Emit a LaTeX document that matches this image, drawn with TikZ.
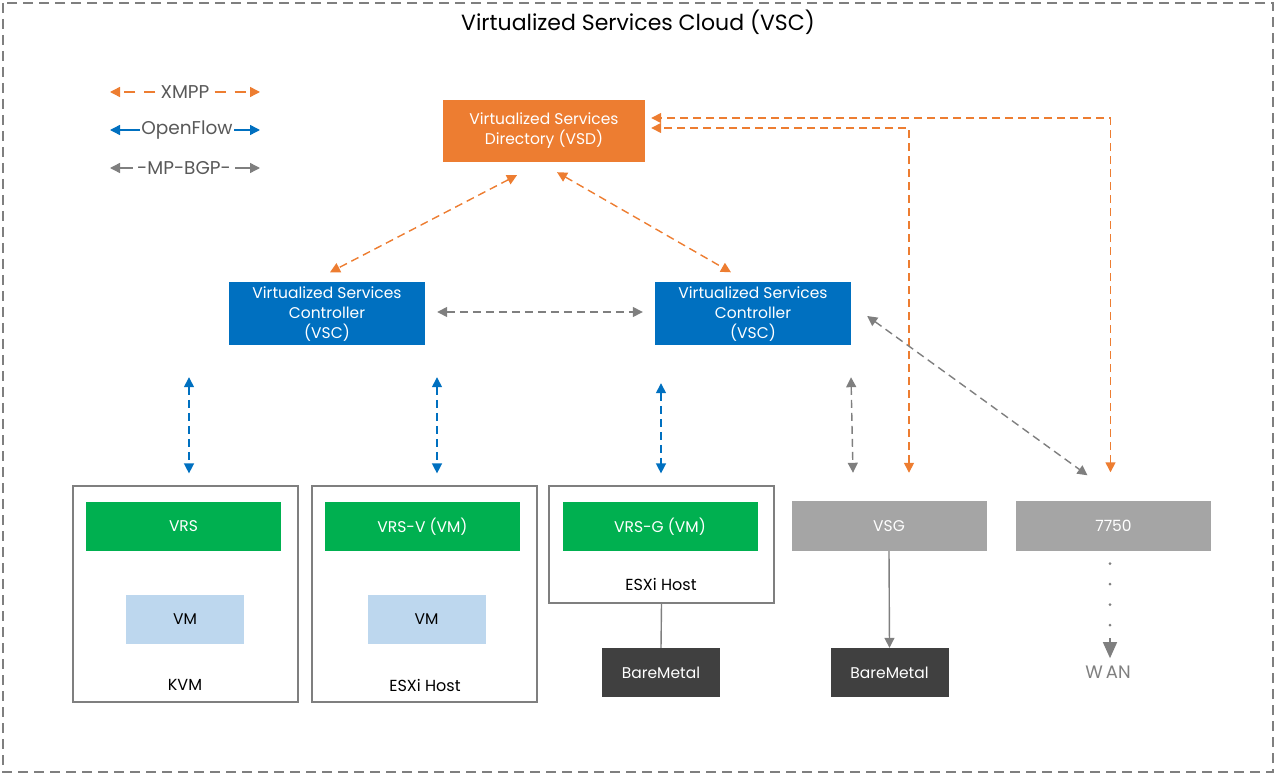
\documentclass[tikz,border=0pt]{standalone}
\usepackage{fontspec}
\setmainfont{Poppins}
\usetikzlibrary{arrows.meta,positioning}

\definecolor{vorange}{HTML}{ED7D31}
\definecolor{vblue}{HTML}{0070C0}
\definecolor{vgreen}{HTML}{00B050}
\definecolor{vmblue}{HTML}{BDD7EE}
\definecolor{vgray}{HTML}{A5A5A5}
\definecolor{vdark}{HTML}{404040}
\definecolor{vline}{HTML}{7F7F7F}
\definecolor{vtext}{HTML}{595959}

\newcommand\boxfont{\fontsize{15.5}{20}\selectfont}

\tikzset{
    unit/.style 2 args={minimum width=#1, minimum height=#2, inner sep=0pt, align=center, font=\boxfont},
    vsdbox/.style={unit={202}{62}, fill=vorange, text=white},
    vscbox/.style={unit={196}{63}, fill=vblue, text=white},
    vrsbox/.style={unit={195}{49}, fill=vgreen, text=white},
    vmbox/.style={unit={118}{49}, fill=vmblue, text=black},
    gwbox/.style={unit={195}{50}, fill=vgray, text=white},
    metal/.style={unit={118}{49}, fill=vdark, text=white},
    host/.style={draw=vline, line width=1.2pt, fill=white},
    hostlabel/.style={font=\fontsize{16}{20}\selectfont, text=black},
    flow/.style={dashed, dash pattern=on 8pt off 5pt, line width=1.4pt, {Triangle[length=10pt,width=10pt]}-{Triangle[length=10pt,width=10pt]}},
    xmpp/.style={flow, vorange},
    ofl/.style={flow, vblue},
    bgp/.style={flow, vline},
    legend/.style={fill=white, inner sep=2pt, text=vtext, font=\fontsize{18.5}{20}\selectfont},
    link/.style={vline, line width=1.4pt},
}

\begin{document}
\begin{tikzpicture}[x=1pt, y=-1pt]
    \useasboundingbox (0,0) rectangle (1277,775);
    \draw[vline, line width=1.4pt, dash pattern=on 10pt off 6pt] (3,3) rectangle (1273,772);
    \node (title) at (638,22) {\fontsize{22}{24}\selectfont Virtualized Services Cloud (VSC)};

    % legend
    \node[legend] (lxmpp) at (185,92) {XMPP};
    \draw[xmpp, -{Triangle[length=10pt,width=10pt]}, dash pattern=on 11pt off 9pt] ([xshift=-3]lxmpp.west) -- (110,92);
    \draw[xmpp, -{Triangle[length=10pt,width=10pt]}, dash pattern=on 11pt off 9pt] ([xshift=3]lxmpp.east) -- (260,92);
    \draw[ofl, solid] (110,130) -- (260,130);
    \node[legend, inner sep=1pt] (lofl) at (187,130) {OpenFlow};
    \draw[bgp, solid] (110,168) -- (260,168);
    \node[legend, inner sep=4pt] (lbgp) at (184,168) {-MP-BGP-};

    % directory and controllers
    \node[vsdbox] (vsd) at (544,131) {Virtualized Services\\Directory (VSD)};
    \node[vscbox] (vscl) at (327,314) {Virtualized Services\\Controller\\(VSC)};
    \node[vscbox] (vscr) at (753,314) {Virtualized Services\\Controller\\(VSC)};

    % hosts
    \node[host, minimum width=225, minimum height=216] (kvm) at (185.5,594) {};
    \node[host, minimum width=225, minimum height=216] (esxa) at (424.5,594) {};
    \node[host, minimum width=225, minimum height=117] (esxb) at (661.5,544.5) {};
    \node[vrsbox] (vrs) at (183.5,526.5) {VRS};
    \node[vrsbox] (vrsv) at (422.5,526.5) {VRS-V (VM)};
    \node[vrsbox] (vrsg) at (660,526.5) {VRS-G (VM)};
    \node[vmbox] (vma) at (185,619.5) {VM};
    \node[vmbox] (vmb) at (426.5,619.5) {VM};
    \node[hostlabel] (lkvm) at (185,685) {KVM};
    \node[hostlabel] (lesxa) at (425,685) {ESXi Host};
    \node[hostlabel] (lesxb) at (661,584) {ESXi Host};

    % gateways
    \node[gwbox] (vsg) at (889,526) {VSG};
    \node[gwbox] (r7750) at (1113.5,525.5) {7750};
    \node[metal] (bma) at (661,672.5) {BareMetal};
    \node[metal] (bmb) at (889.5,672.5) {BareMetal};
    \node[font=\fontsize{18}{20}\selectfont, text=vline] (wan) at (1108,672) {W\,AN};

    % xmpp
    \draw[xmpp] ([shift={(-27,13)}]vsd.south) -- ([shift={(3,-10)}]vscl.north);
    \draw[xmpp] ([shift={(13,10)}]vsd.south) -- ([shift={(-22,-10)}]vscr.north);
    \draw[xmpp] ([shift={(20,-28)}]vsg.north) |- ([shift={(6,-3)}]vsd.east);
    \draw[xmpp] ([shift={(-3,-28)}]r7750.north) |- ([shift={(6,-13)}]vsd.east);

    % mp-bgp
    \draw[bgp] ([shift={(12,-2)}]vscl.east) -- ([shift={(-12,-2)}]vscr.west);
    \draw[bgp] ([shift={(16,2)}]vscr.east) -- ([shift={(-26,-25)}]r7750.north);
    \draw[bgp] ([shift={(98,31.5)}]vscr.south) -- ([shift={(-36,-28)}]vsg.north);

    % openflow
    \draw[ofl] ([shift={(-138,31.5)}]vscl.south) -- ([shift={(3.5,-12)}]kvm.north);
    \draw[ofl] ([shift={(110,31.5)}]vscl.south) -- ([shift={(12.5,-12)}]esxa.north);
    \draw[ofl] ([shift={(-92,37.5)}]vscr.south) -- ([shift={(-0.5,-12)}]esxb.north);

    % bare metal and wan
    \draw[link] (esxb.south) -- (bma.north);
    \draw[link, -{Triangle[length=10pt,width=10pt]}] (vsg.south) -- (bmb.north);
    \draw[vline, line width=3pt, line cap=round, dash pattern=on 0pt off 20.5pt, dash phase=-13pt] ([xshift=-3.5]r7750.south) -- ([shift={(2,-24)}]wan.north);
    \draw[link, -{Triangle[length=16pt,width=14pt]}] ([shift={(2,-24)}]wan.north) -- ([shift={(2,-4)}]wan.north);
\end{tikzpicture}
\end{document}
